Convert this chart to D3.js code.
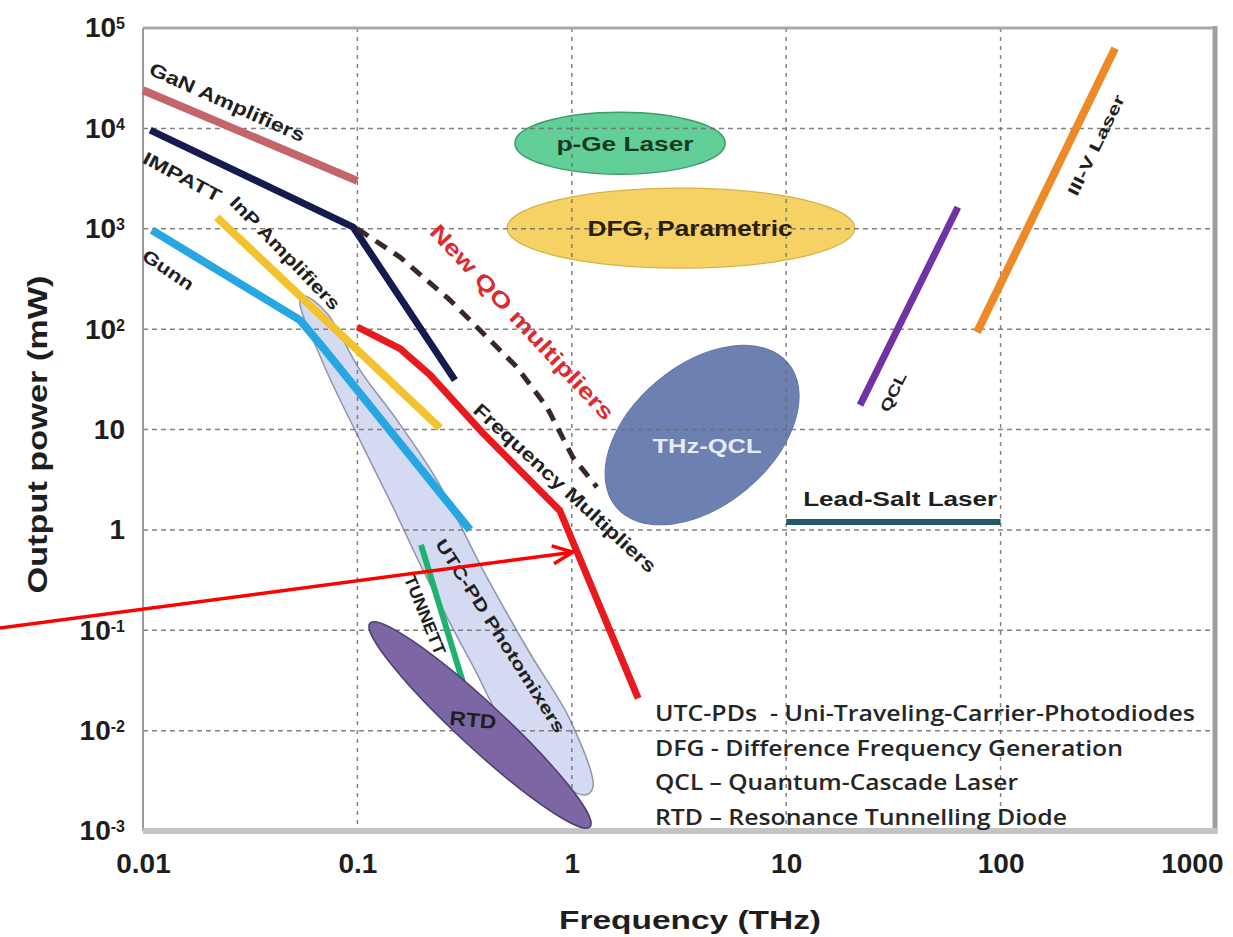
<!DOCTYPE html>
<html>
<head>
<meta charset="utf-8">
<script src="https://cdn.jsdelivr.net/npm/d3@7"></script>
<style>
  html, body { margin: 0; padding: 0; background: #fff; }
  svg { display: block; }
</style>
</head>
<body>
<svg id="chart" width="1233" height="937"></svg>
<script>
// ---- axis ticks ----
const xTicks = [0.01, 0.1, 1, 10, 100, 1000];
const xTickLabels = ["0.01", "0.1", "1", "10", "100", "1000"];
const yTicks = [1e-3, 1e-2, 1e-1, 1, 10, 1e2, 1e3, 1e4, 1e5];
const yTickBase = ["10", "10", "10", "1", "10", "10", "10", "10", "10"];
const yTickExp = ["-3", "-2", "-1", "", "", "2", "3", "4", "5"];

// ---- source curves: frequency (THz) and output power (mW) ----
const ganFreq = [0.01, 0.1];
const ganPower = [24000, 3000];

const impattFreq = [0.0108, 0.0955, 0.285];
const impattPower = [9600, 1040, 31];

const inpFreq = [0.0221, 0.243];
const inpPower = [1300, 10.3];

const gunnFreq = [0.011, 0.054, 0.0706, 0.335];
const gunnPower = [968, 123, 62, 1.0];

const multFreq = [0.1, 0.158, 0.218, 0.385, 0.88, 2.04];
const multPower = [105, 64, 35, 9.2, 1.55, 0.021];

const qoFreq = [0.1, 0.158, 0.27, 0.555, 0.766, 1.01, 1.31];
const qoPower = [1000, 521, 195, 41.7, 16.7, 5.3, 2.67];

const tunnettFreq = [0.198, 0.311];
const tunnettPower = [0.71, 0.030];

const qclFreq = [22.1, 63.2];
const qclPower = [17.5, 1640];

const iiivFreq = [77.6, 342];
const iiivPower = [93, 63000];

const leadSaltFreq = [10, 100];
const leadSaltPower = [1.2, 1.2];

// ---- UTC-PD photomixer envelope (closed outline) ----
const photomixerFreq = [0.057, 0.0721, 0.1028, 0.153, 0.235, 0.385, 0.638, 0.982, 1.256, 1.15,
                        0.591, 0.335, 0.202, 0.1466, 0.1028, 0.0692, 0.054];
const photomixerPower = [213, 144, 39, 12.4, 3.13, 0.40, 0.059, 0.0128, 0.00274, 0.00229,
                         0.006, 0.050, 0.40, 1.69, 7.8, 45.8, 195];

// ---- elliptical regions: end points of the long axis + minor/major ratio ----
const regionNames = ["DFG, Parametric", "p-Ge Laser", "THz-QCL", "RTD"];
const regionFreqA = [0.499, 0.543, 1.61, 0.1145];
const regionPowerA = [1015, 7120, 1.69, 0.118];
const regionFreqB = [20.9, 5.19, 10.2, 1.216];
const regionPowerB = [1015, 7120, 45.8, 0.0011];
const regionRatio = [0.23, 0.295, 0.625, 0.15];

// ---- annotation arrow (frequency, power) ----
const arrowFreq = [0.00215, 1.01];
const arrowPower = [0.105, 0.6];

// ---- curve labels ----
const labelTexts = ["GaN Amplifiers", "IMPATT", "InP Amplifiers", "Gunn", "New QO multipliers",
                    "Frequency Multipliers", "UTC-PD Photomixers", "TUNNETT", "RTD", "QCL",
                    "III-V Laser", "Lead-Salt Laser", "p-Ge Laser", "DFG, Parametric", "THz-QCL"];
const labelFreq = [0.0247, 0.0152, 0.0459, 0.0131, 0.586, 0.929, 0.463, 0.206, 0.346, 31.5,
                   279, 34, 1.77, 3.56, 4.27];
const labelPower = [18200, 3270, 571, 387, 117, 2.61, 0.0875, 0.1416, 0.0128, 23.6,
                    6800, 2.03, 7120, 1015, 7.0];

// ---- abbreviations ----
const legendLines = [
  "UTC-PDs  - Uni-Traveling-Carrier-Photodiodes",
  "DFG - Difference Frequency Generation",
  "QCL \u2013 Quantum-Cascade Laser",
  "RTD \u2013 Resonance Tunnelling Diode"
];

// ================= drawing =================
const W = 1233, H = 937;
const plot = { left: 143, top: 28, right: 1215, bottom: 831 };
const svg = d3.select("#chart");

const x = d3.scaleLog().domain([0.01, 1000]).range([plot.left, plot.right]);
const y = d3.scaleLog().domain([1e-3, 1e5]).range([plot.bottom, plot.top]);

svg.append("rect").attr("width", W).attr("height", H).attr("fill", "#fff");

const FONT = "'Liberation Sans', Arial, sans-serif";
const lineGen = d3.line().x(d => x(d[0])).y(d => y(d[1]));
const zip = (f, p) => f.map((v, i) => [v, p[i]]);

// regions underneath the grid
const regionStyle = {
  "DFG, Parametric": { fill: "#f6d164", stroke: "#d5b246", sw: 1.2 },
  "p-Ge Laser": { fill: "#63cf98", stroke: "#3c9c6c", sw: 1.5 },
  "THz-QCL": { fill: "#6c81b2", stroke: "#5f73a4", sw: 1 }
};
const regionLayer = svg.append("g");

function ellipseGeom(i) {
  const x1 = x(regionFreqA[i]), y1 = y(regionPowerA[i]);
  const x2 = x(regionFreqB[i]), y2 = y(regionPowerB[i]);
  const rx = Math.hypot(x2 - x1, y2 - y1) / 2;
  return {
    cx: (x1 + x2) / 2, cy: (y1 + y2) / 2, rx, ry: rx * regionRatio[i],
    ang: Math.atan2(y2 - y1, x2 - x1) * 180 / Math.PI
  };
}
regionNames.forEach((name, i) => {
  if (name === "RTD") return;
  const g = ellipseGeom(i), s = regionStyle[name];
  regionLayer.append("ellipse")
    .attr("transform", `translate(${g.cx},${g.cy}) rotate(${g.ang})`)
    .attr("rx", g.rx).attr("ry", g.ry)
    .attr("fill", s.fill).attr("stroke", s.stroke).attr("stroke-width", s.sw);
});

// UTC-PD photomixer envelope
const areaGen = d3.line().x(d => x(d[0])).y(d => y(d[1])).curve(d3.curveCatmullRomClosed.alpha(0.5));
svg.append("path")
  .attr("d", areaGen(zip(photomixerFreq, photomixerPower)))
  .attr("fill", "#b9c3ea").attr("fill-opacity", 0.62)
  .attr("stroke", "#8c96aa").attr("stroke-width", 1.5);

// grid
const grid = svg.append("g");
grid.selectAll("line.h").data(yTicks.filter(v => v > 1e-3 && v < 1e5)).join("line")
  .attr("class", "h")
  .attr("x1", plot.left).attr("x2", plot.right)
  .attr("y1", d => y(d)).attr("y2", d => y(d))
  .attr("stroke", "#6e6e6e").attr("stroke-width", 1.5).attr("stroke-dasharray", "5,4")
  .attr("opacity", 0.85);
grid.selectAll("line.v").data(xTicks.filter(v => v > 0.01 && v < 1000)).join("line")
  .attr("class", "v")
  .attr("y1", plot.top).attr("y2", plot.bottom)
  .attr("x1", d => x(d)).attr("x2", d => x(d))
  .attr("stroke", "#6e6e6e").attr("stroke-width", 1.5).attr("stroke-dasharray", "4,5")
  .attr("opacity", 0.85);

// frame
const frame = svg.append("g").attr("fill", "none");
frame.append("line").attr("x1", plot.left).attr("x2", plot.right).attr("y1", plot.top).attr("y2", plot.top)
  .attr("stroke", "#a9a9a9").attr("stroke-width", 3);
frame.append("line").attr("x1", plot.left).attr("x2", plot.left).attr("y1", plot.top).attr("y2", plot.bottom)
  .attr("stroke", "#9a9a9a").attr("stroke-width", 2);
frame.append("line").attr("x1", plot.right).attr("x2", plot.right).attr("y1", plot.top - 2).attr("y2", plot.bottom + 3)
  .attr("stroke", "#a0a0a0").attr("stroke-width", 5);
frame.append("line").attr("x1", plot.left).attr("x2", plot.right + 2).attr("y1", plot.bottom).attr("y2", plot.bottom)
  .attr("stroke", "#c4c4c4").attr("stroke-width", 6);

// curves
const curves = [
  { f: ganFreq, p: ganPower, color: "#c2666b", w: 8 },
  { f: inpFreq, p: inpPower, color: "#f2c22f", w: 8 },
  { f: gunnFreq, p: gunnPower, color: "#27a7e1", w: 8 },
  { f: impattFreq, p: impattPower, color: "#151b4f", w: 7 },
  { f: multFreq, p: multPower, color: "#e8191f", w: 7 },
  { f: qoFreq, p: qoPower, color: "#3a2829", w: 5, dash: "13,9" },
  { f: tunnettFreq, p: tunnettPower, color: "#1fb26f", w: 6 },
  { f: qclFreq, p: qclPower, color: "#7132a3", w: 7 },
  { f: iiivFreq, p: iiivPower, color: "#eb8a26", w: 8 },
  { f: leadSaltFreq, p: leadSaltPower, color: "#255866", w: 6 }
];
const curveLayer = svg.append("g").attr("fill", "none")
  .attr("stroke-linejoin", "round");
curves.forEach(c => {
  curveLayer.append("path")
    .attr("d", lineGen(zip(c.f, c.p)))
    .attr("stroke", c.color).attr("stroke-width", c.w)
    .attr("stroke-dasharray", c.dash || null);
});

// RTD region on top
{
  const i = regionNames.indexOf("RTD");
  const g = ellipseGeom(i);
  svg.append("ellipse")
    .attr("transform", `translate(${g.cx},${g.cy}) rotate(${g.ang})`)
    .attr("rx", g.rx).attr("ry", g.ry)
    .attr("fill", "#7c66a4").attr("stroke", "#4d3d70").attr("stroke-width", 1.5);
}

// axes
const xAxis = d3.axisBottom(x).tickValues(xTicks).tickSize(0).tickPadding(22)
  .tickFormat(d => xTickLabels[xTicks.indexOf(d)]);
const gx = svg.append("g").attr("transform", `translate(0,${plot.bottom})`).call(xAxis);
gx.select(".domain").remove();
gx.selectAll(".tick text")
  .attr("font-family", FONT).attr("font-weight", "bold").attr("font-size", 28).attr("fill", "#1e1e1e")
  .filter(d => d === 1000).attr("text-anchor", "end").attr("x", 8);

const yAxis = d3.axisLeft(y).tickValues(yTicks).tickSize(0).tickPadding(18).tickFormat(() => "");
const gy = svg.append("g").attr("transform", `translate(${plot.left},0)`).call(yAxis);
gy.select(".domain").remove();
gy.selectAll(".tick text").each(function (d) {
  const i = yTicks.indexOf(d);
  const t = d3.select(this)
    .attr("font-family", FONT).attr("font-weight", "bold").attr("font-size", 28).attr("fill", "#1e1e1e");
  t.text(null);
  t.append("tspan").text(yTickBase[i]);
  if (yTickExp[i]) t.append("tspan").attr("dy", "-0.5em").attr("font-size", 16).text(yTickExp[i]);
});

// axis titles
svg.append("text")
  .attr("transform", `translate(38,${(plot.top + plot.bottom) / 2 + 5}) rotate(-90)`)
  .attr("text-anchor", "middle").attr("dominant-baseline", "central")
  .attr("font-family", FONT).attr("font-weight", "bold").attr("font-size", 27).attr("fill", "#1e1e1e")
  .attr("textLength", 318).attr("lengthAdjust", "spacingAndGlyphs")
  .text("Output power (mW)");
svg.append("text")
  .attr("x", 690).attr("y", 929)
  .attr("text-anchor", "middle")
  .attr("font-family", FONT).attr("font-weight", "bold").attr("font-size", 25).attr("fill", "#1e1e1e")
  .attr("textLength", 262).attr("lengthAdjust", "spacingAndGlyphs")
  .text("Frequency (THz)");

// curve / region labels
const labelStyle = {
  "GaN Amplifiers": { ang: 24, size: 19, len: 168 },
  "IMPATT": { ang: 28, size: 18, len: 86 },
  "InP Amplifiers": { ang: 46, size: 18, len: 150 },
  "Gunn": { ang: 34, size: 18, len: 58 },
  "New QO multipliers": { ang: 47, size: 22, len: 258, color: "#dc2a2f", weight: 600 },
  "Frequency Multipliers": { ang: 42.5, size: 19, len: 240 },
  "UTC-PD Photomixers": { ang: 57.5, size: 17, len: 226 },
  "TUNNETT": { ang: 68, size: 17, len: 84 },
  "RTD": { ang: 5, size: 20, len: 47 },
  "QCL": { ang: -64, size: 15, len: 42 },
  "III-V Laser": { ang: -64, size: 16, len: 110 },
  "Lead-Salt Laser": { ang: 0, size: 20, len: 194 },
  "p-Ge Laser": { ang: 0, size: 21, len: 137, color: "#173a25" },
  "DFG, Parametric": { ang: 0, size: 22, len: 205, color: "#2a2000" },
  "THz-QCL": { ang: 0, size: 21, len: 109, color: "#e6eaf4" }
};
const labelLayer = svg.append("g");
labelTexts.forEach((txt, i) => {
  const s = labelStyle[txt];
  labelLayer.append("text")
    .attr("transform", `translate(${x(labelFreq[i])},${y(labelPower[i])}) rotate(${s.ang})`)
    .attr("text-anchor", "middle").attr("dominant-baseline", "central")
    .attr("font-family", FONT).attr("font-weight", s.weight || "bold").attr("font-size", s.size)
    .attr("fill", s.color || "#1f1f1f")
    .attr("textLength", s.len).attr("lengthAdjust", "spacingAndGlyphs")
    .text(txt);
});

// abbreviation block
const legendWidths = [540, 468, 363, 412];
svg.append("g").selectAll("text").data(legendLines).join("text")
  .attr("x", 655)
  .attr("y", (d, i) => 721 + i * 34.5)
  .attr("font-family", "'Open Sans', Lato, sans-serif").attr("font-weight", 600)
  .attr("font-size", 21).attr("fill", "#262626")
  .style("white-space", "pre")
  .attr("textLength", (d, i) => legendWidths[i]).attr("lengthAdjust", "spacingAndGlyphs")
  .text(d => d);

// annotation arrow
const arrowLen = 22;
const p0 = [x(arrowFreq[0]), y(arrowPower[0])];
const p1 = [x(arrowFreq[1]), y(arrowPower[1])];
const a = Math.atan2(p1[1] - p0[1], p1[0] - p0[0]);
const head = d3.path();
head.moveTo(p1[0] - arrowLen * Math.cos(a - 0.42), p1[1] - arrowLen * Math.sin(a - 0.42));
head.lineTo(p1[0], p1[1]);
head.lineTo(p1[0] - arrowLen * Math.cos(a + 0.42), p1[1] - arrowLen * Math.sin(a + 0.42));
const arrowG = svg.append("g").attr("stroke", "#ff0000").attr("fill", "none").attr("stroke-width", 3.5);
arrowG.append("path").attr("d", lineGen([[arrowFreq[0], arrowPower[0]], [arrowFreq[1], arrowPower[1]]]));
arrowG.append("path").attr("d", head.toString()).attr("stroke-linejoin", "miter");
</script>
</body>
</html>
